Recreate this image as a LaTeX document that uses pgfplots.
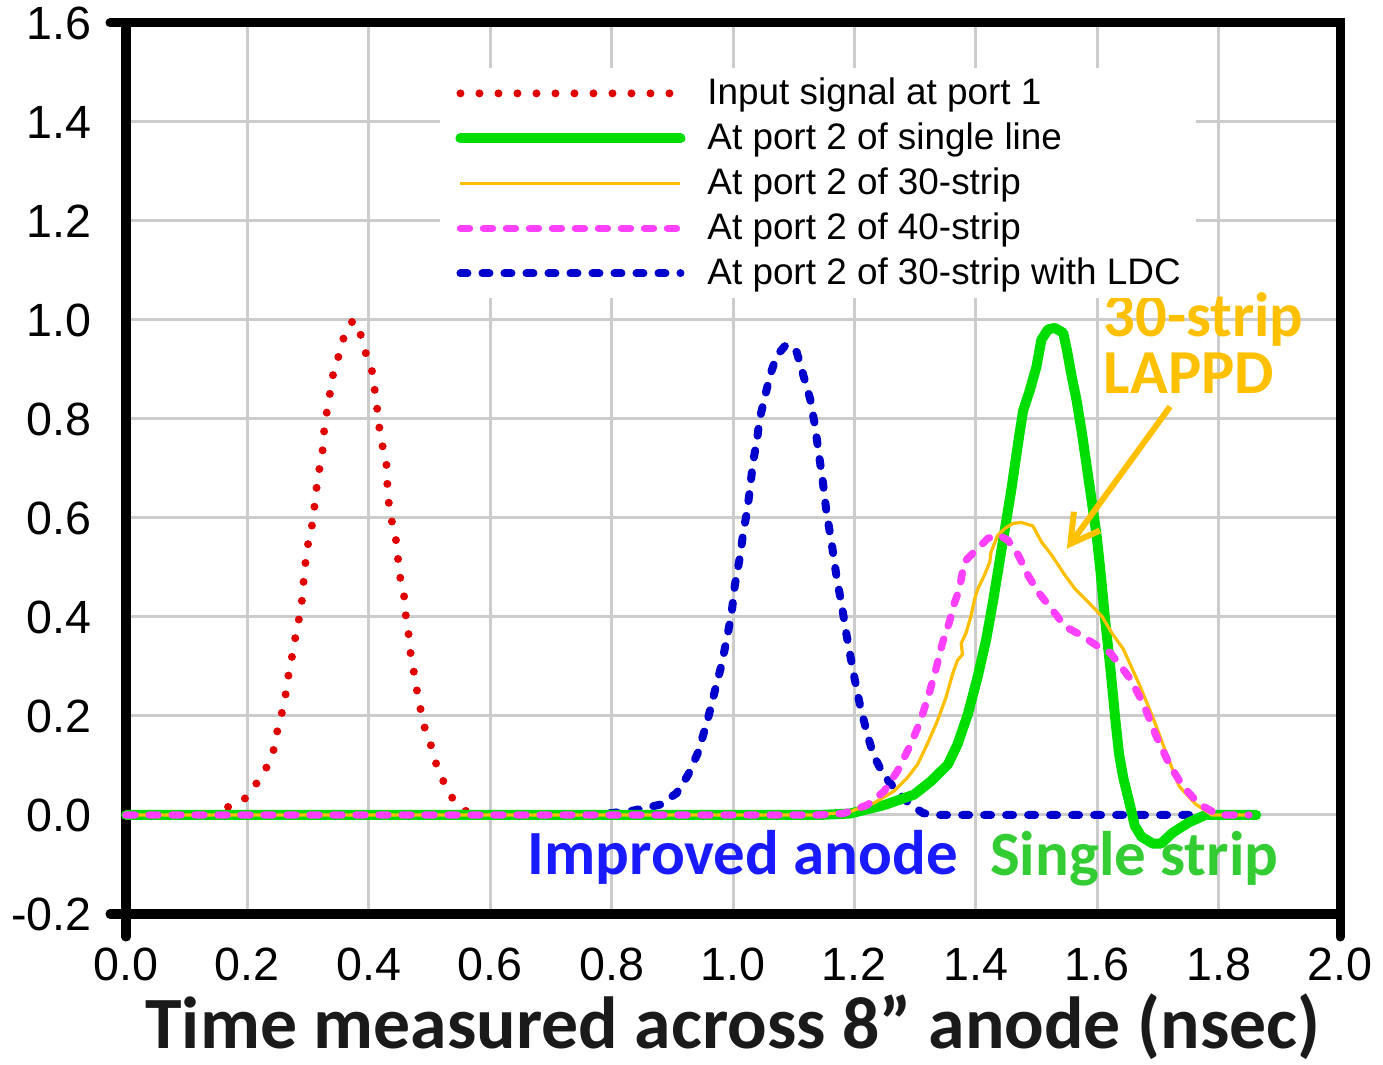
\documentclass[border=0pt]{standalone}
\usepackage{fontspec}
\setmainfont{Liberation Sans}
\newfontfamily\carlito{Carlito}
\usepackage{pgfplots}
\pgfplotsset{compat=1.18}
\usetikzlibrary{arrows.meta}

\definecolor{gridgray}{RGB}{204,204,204}
\definecolor{inred}{RGB}{224,0,0}
\definecolor{singlegreen}{RGB}{0,221,0}
\definecolor{stripor}{RGB}{255,190,0}
\definecolor{stripmag}{RGB}{255,64,255}
\definecolor{ldcblue}{RGB}{0,0,204}
\definecolor{annblue}{RGB}{26,26,255}
\definecolor{anngreen}{RGB}{51,204,51}
\definecolor{annorange}{RGB}{255,192,0}
\definecolor{labelgray}{RGB}{26,26,26}

\pgfplotsset{
  inputsig/.style={color=inred, line width=4bp, line cap=round, dash pattern=on 0bp off 9.5bp},
  singleline/.style={color=singlegreen, line width=5bp, line cap=round, line join=round},
  strip30/.style={color=stripor, line width=1.6bp, line join=round},
  strip40/.style={color=stripmag, line width=3.7bp, line cap=round, dash pattern=on 4.5bp off 7bp},
  stripldc/.style={color=ldcblue, line width=4bp, line cap=round, dash pattern=on 3.5bp off 7.5bp},
}

% input pulse at port 1
\pgfplotstableread{
x y
0.140 0.000
0.158 0.012
0.182 0.022
0.199 0.036
0.209 0.056
0.222 0.073
0.233 0.100
0.243 0.131
0.251 0.180
0.261 0.226
0.266 0.271
0.273 0.317
0.278 0.352
0.283 0.384
0.289 0.422
0.292 0.465
0.295 0.503
0.299 0.542
0.306 0.582
0.311 0.628
0.314 0.662
0.320 0.710
0.325 0.745
0.327 0.788
0.334 0.835
0.338 0.870
0.343 0.901
0.352 0.933
0.359 0.966
0.365 0.985
0.375 1.000
0.387 0.969
0.394 0.937
0.406 0.894
0.409 0.866
0.412 0.835
0.415 0.811
0.418 0.776
0.423 0.743
0.429 0.709
0.431 0.657
0.432 0.638
0.437 0.599
0.446 0.548
0.450 0.490
0.458 0.444
0.461 0.402
0.466 0.361
0.469 0.325
0.473 0.296
0.478 0.267
0.481 0.231
0.489 0.199
0.494 0.162
0.505 0.134
0.509 0.110
0.521 0.073
0.534 0.040
0.547 0.021
0.560 0.008
0.580 0.000
}\tinput

% port 2, single line
\pgfplotstableread{
x y
0.000 0.000
1.140 0.000
1.193 0.003
1.249 0.020
1.298 0.041
1.326 0.068
1.354 0.102
1.370 0.143
1.387 0.204
1.403 0.279
1.417 0.354
1.428 0.429
1.439 0.511
1.450 0.593
1.459 0.661
1.467 0.729
1.472 0.770
1.478 0.817
1.489 0.858
1.500 0.906
1.508 0.960
1.519 0.981
1.530 0.984
1.544 0.974
1.550 0.940
1.558 0.886
1.566 0.838
1.575 0.770
1.583 0.702
1.591 0.634
1.599 0.565
1.605 0.497
1.613 0.395
1.622 0.293
1.630 0.191
1.636 0.123
1.643 0.075
1.652 0.030
1.662 -0.022
1.673 -0.044
1.692 -0.058
1.705 -0.058
1.724 -0.036
1.751 -0.015
1.778 0.000
1.862 0.000
}\tsingle

% port 2, 30-strip
\pgfplotstableread{
x y
0.000 0.000
1.140 0.000
1.193 0.007
1.232 0.024
1.265 0.048
1.287 0.075
1.304 0.102
1.320 0.143
1.337 0.191
1.351 0.238
1.362 0.286
1.370 0.313
1.378 0.324
1.376 0.347
1.384 0.368
1.392 0.402
1.398 0.436
1.403 0.456
1.414 0.484
1.423 0.511
1.425 0.531
1.436 0.565
1.448 0.579
1.461 0.589
1.475 0.591
1.494 0.584
1.508 0.552
1.525 0.525
1.547 0.484
1.564 0.456
1.586 0.429
1.608 0.401
1.624 0.368
1.643 0.335
1.670 0.262
1.692 0.196
1.714 0.124
1.735 0.058
1.762 0.022
1.789 0.000
1.855 0.000
}\tthirty

% port 2, 40-strip
\pgfplotstableread{
x y
0.000 0.000
1.138 0.000
1.182 0.003
1.221 0.020
1.249 0.048
1.271 0.089
1.293 0.143
1.309 0.191
1.323 0.245
1.334 0.293
1.345 0.347
1.356 0.388
1.365 0.429
1.373 0.456
1.376 0.477
1.381 0.511
1.392 0.525
1.403 0.538
1.420 0.559
1.439 0.565
1.453 0.555
1.470 0.525
1.486 0.484
1.503 0.450
1.525 0.416
1.547 0.381
1.575 0.362
1.602 0.340
1.622 0.327
1.654 0.276
1.676 0.225
1.697 0.160
1.719 0.102
1.741 0.058
1.768 0.022
1.800 0.000
1.850 0.000
}\tforty

% port 2, 30-strip with LDC
\pgfplotstableread{
x y
0.000 0.000
0.760 0.000
0.800 0.004
0.836 0.009
0.880 0.021
0.907 0.044
0.926 0.081
0.943 0.128
0.959 0.196
0.970 0.250
0.981 0.303
0.990 0.357
0.998 0.411
1.003 0.464
1.012 0.525
1.017 0.572
1.023 0.612
1.028 0.659
1.033 0.713
1.039 0.753
1.044 0.800
1.053 0.847
1.061 0.888
1.072 0.928
1.086 0.948
1.094 0.950
1.105 0.935
1.116 0.888
1.127 0.841
1.135 0.787
1.141 0.733
1.148 0.673
1.154 0.612
1.163 0.545
1.171 0.478
1.179 0.425
1.187 0.364
1.198 0.290
1.209 0.223
1.220 0.169
1.231 0.122
1.248 0.081
1.270 0.048
1.292 0.021
1.313 0.004
1.330 0.000
1.790 0.000
}\tldc

\begin{document}
\begin{tikzpicture}
\useasboundingbox (0,0) rectangle (691.5bp,532.5bp);
\begin{axis}[
  at={(63bp,75.5bp)}, anchor=south west,
  scale only axis, width=607bp, height=445.5bp,
  xmin=0, xmax=2, ymin=-0.2, ymax=1.6,
  clip=false,
  xtick={0,0.2,0.4,0.6,0.8,1.0,1.2,1.4,1.6,1.8,2.0},
  ytick={-0.2,0,0.2,0.4,0.6,0.8,1.0,1.2,1.4,1.6},
  grid=major,
  major grid style={color=gridgray, line width=1.5bp},
  axis line style={line width=4.5bp, black},
  tick style={draw=none},
  ticklabel style={font=\fontsize{23.4}{28}\selectfont, inner sep=0pt},
  xticklabel style={anchor=north, yshift=-17bp},
  yticklabel style={anchor=east, xshift=-17bp},
  xlabel={Time measured across 8” anode (nsec)},
  xlabel style={at={(axis description cs:0.5,0)}, anchor=base, yshift=-67bp, inner sep=0pt,
    font=\carlito\bfseries\fontsize{37}{40}\selectfont, text=labelgray},
  legend style={at={(rel axis cs:0.2587,0.9495)}, anchor=north west, draw=none, fill=white,
    inner xsep=7.5bp, inner ysep=2bp, font=\fontsize{18.5}{22}\selectfont, row sep=1.5bp,
    nodes={inner sep=0pt, text height=16bp, text depth=5bp},
    /tikz/every odd column/.append style={column sep=11bp}},
  legend cell align=left,
  legend image code/.code={\draw[#1] (0bp,0bp) -- (110bp,0bp);},
  /pgf/number format/fixed,
  /pgf/number format/fixed zerofill,
  /pgf/number format/precision=1,
  /pgf/number format/assume math mode=true,
]
\addplot[inputsig, forget plot] table {\tinput};
\addplot[stripldc, forget plot] table {\tldc};
\addplot[singleline, forget plot] table {\tsingle};
\addplot[strip30, forget plot] table {\tthirty};
\addplot[strip40, forget plot] table {\tforty};

\addlegendimage{inputsig}
\addlegendimage{singleline}
\addlegendimage{strip30}
\addlegendimage{strip40}
\addlegendimage{stripldc}
\legend{Input signal at port 1, At port 2 of single line, At port 2 of 30-strip,
  At port 2 of 40-strip, At port 2 of 30-strip with LDC}

% frame corner extensions
\draw[line width=4.5bp, line cap=round] (axis cs:0,1.6) -- ++(-8bp,0pt);
\draw[line width=4.5bp, line cap=round] (axis cs:0,-0.2) -- ++(-8bp,0pt);
\draw[line width=4.5bp, line cap=round] (axis cs:0,-0.2) -- ++(0pt,-11.5bp);
\draw[line width=4.5bp, line cap=round] (axis cs:2,-0.2) -- ++(0pt,-11.5bp);

% annotations
\node[anchor=base west, inner sep=0pt, text=annblue, font=\carlito\bfseries\fontsize{31.6}{34}\selectfont]
  at (axis cs:0.661,-0.121) {Improved anode};
\node[anchor=base west, inner sep=0pt, text=anngreen, font=\carlito\bfseries\fontsize{31.6}{34}\selectfont]
  at (axis cs:1.423,-0.123) {Single strip};
\node[anchor=base west, inner sep=0pt, text=annorange, font=\carlito\bfseries\fontsize{31.4}{34}\selectfont]
  at (axis cs:1.610,0.966) {30-strip};
\node[anchor=base west, inner sep=0pt, text=annorange, font=\carlito\bfseries\fontsize{31.4}{34}\selectfont]
  at (axis cs:1.610,0.851) {LAPPD};
\draw[annorange, line width=3bp, -{Straight Barb[length=14bp, width=16bp]}]
  (axis cs:1.720,0.825) -- (axis cs:1.550,0.538);
\end{axis}
\end{tikzpicture}
\end{document}
